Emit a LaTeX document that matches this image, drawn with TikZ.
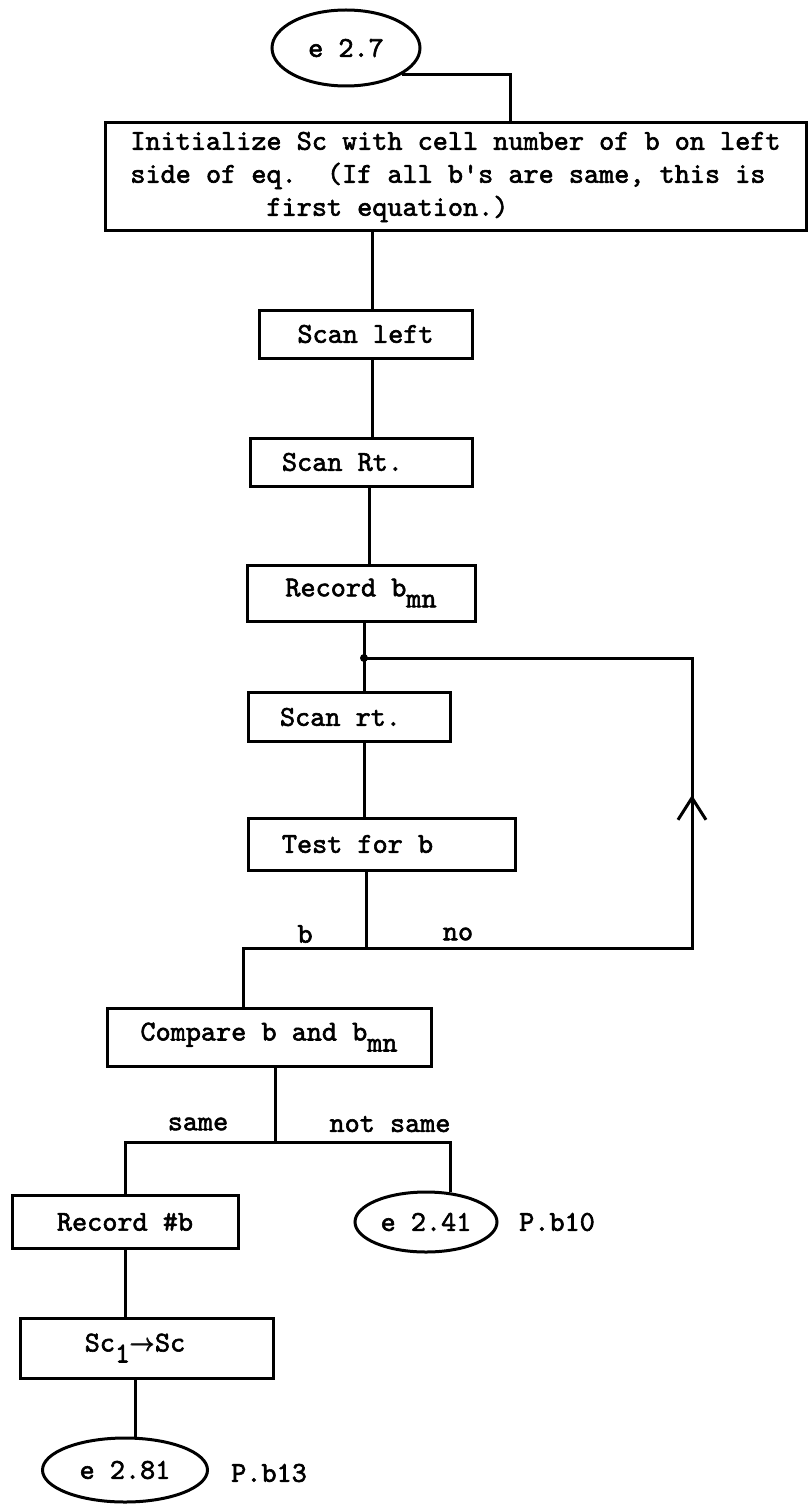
\documentclass[tikz,border=0pt]{standalone}
\usepackage{amsmath}
\usepackage{fontspec}
\usepackage{tikz}
\usetikzlibrary{positioning,shapes.geometric,arrows.meta}
\newfontfamily\typer{lmmono10-regular.otf}[FakeBold=2, WordSpace={1,0,0}]
\newcommand{\lowr}[1]{\raisebox{-11pt}{#1}}

\begin{document}
\begin{tikzpicture}[
    x=1pt, y=-1pt,
    font=\typer\fontsize{28.8}{33}\selectfont,
    line width=3pt,
    box/.style={draw, rectangle, align=center, inner sep=3pt},
    nudge/.style={execute at end node={\hspace*{#1}}},
    term/.style={draw, ellipse, inner sep=0pt},
    lbl/.style={inner sep=1pt},
  ]
    \useasboundingbox (0,0) rectangle (810,1506);

    \node[term, minimum width=148pt, minimum height=76pt] (start) at (346,48) {e 2.7};

    \node[box, align=left, minimum width=701pt, minimum height=108pt] (init) at (455.5,177)
      {Initialize Sc with cell number of b on left\\
       side of eq.\ \ (If all b\textquotesingle s are same, this is\\
       \phantom{xxxxxxxxx}first equation.)};

    \node[box, minimum width=213pt, minimum height=48pt] (scanl) at (365.5,334) {Scan left};
    \node[box, nudge=37pt, minimum width=222pt, minimum height=48pt] (scanR) at (361,462) {Scan Rt.};
    \node[box, minimum width=228pt, minimum height=56pt] (recb) at (361,593) {Record b\lowr{mn}};
    \node[box, nudge=17pt, minimum width=202pt, minimum height=49pt] (scanr) at (349,717) {Scan rt.};
    \node[box, nudge=48pt, minimum width=267pt, minimum height=52pt] (test) at (381.5,844) {Test for b};
    \node[box, minimum width=324pt, minimum height=58pt] (cmp) at (269,1037) {Compare b and b\lowr{mn}};

    \node[box, minimum width=226pt, minimum height=53pt] (recnum) at (125,1222) {Record \#b};
    \node[term, minimum width=142pt, minimum height=60pt] (exit1) at (426,1222) {e 2.41};
    \node[lbl] (pb10) at (557,1222) {P.b10};

    \node[box, nudge=23pt, minimum width=253pt, minimum height=60pt] (sccopy) at (146.5,1348)
      {Sc\lowr{1}$\pmb{\rightarrow}$Sc};
    \node[term, minimum width=165pt, minimum height=64pt] (exit2) at (125,1470) {e 2.81};
    \node[lbl] (pb13) at (269,1473) {P.b13};

    % branch labels
    \node[lbl] (lb) at (305,934) {b};
    \node[lbl] (lno) at (458,934) {no};
    \node[lbl] (lsame) at (198,1124) {same};
    \node[lbl] (lnot) at (390,1124) {not same};

    \coordinate (join) at (364,658);
    \coordinate (split) at (366,948);
    \coordinate (loopup) at (692,658);
    \coordinate (loopmid) at (692,795);
    \coordinate (bturn) at (243,948);
    \coordinate (fork) at (275,1142);

    \draw (start.-25) -| ([xshift=55pt]init.north);
    \draw ([xshift=-83pt]init.south) -- ([xshift=-83pt]init.south |- scanl.north);
    \draw ([xshift=7pt]scanl.south) -- ([xshift=7pt]scanl.south |- scanR.north);
    \draw ([xshift=8pt]scanR.south) -- ([xshift=8pt]scanR.south |- recb.north);
    \draw (recb.south -| join) -- (join |- scanr.north);
    \fill (join) circle (4pt);
    \draw (join |- scanr.south) -- (join |- test.north);

    % test for b: loop back or go on
    \draw (split |- test.south) -- (split);
    \draw (split) -| (loopup) -- (join);
    \draw[-{Straight Barb[length=22pt,width=28pt]}] (split -| loopup) -- (loopmid);
    \draw (split) -- (bturn) -- (bturn |- cmp.north);

    \draw (fork |- cmp.south) -- (fork);
    \draw (fork) -| (recnum.north);
    \draw (fork) -| (exit1.50);
    \draw (recnum) -- (recnum |- sccopy.north);
    \draw ([xshift=10pt]exit2.north |- sccopy.south) -- ([xshift=10pt]exit2.north);
  \end{tikzpicture}
\end{document}
